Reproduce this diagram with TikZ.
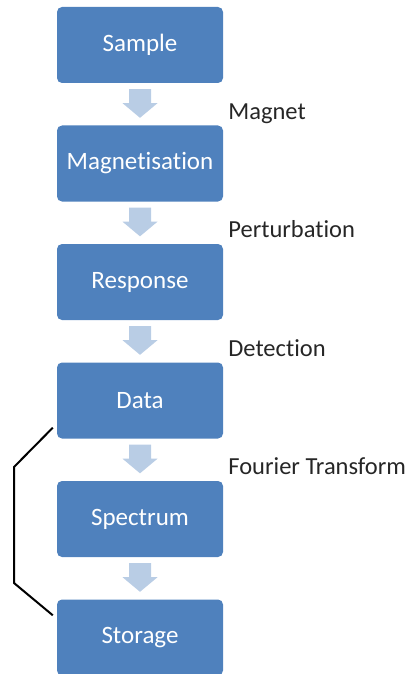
\documentclass[tikz,border=0pt]{standalone}
\usepackage{fontspec}
\setmainfont{Carlito}[Ligatures={NoCommon}]
\usetikzlibrary{calc}
\definecolor{boxblue}{RGB}{79,129,189}
\definecolor{arrowblue}{RGB}{185,205,229}
\begin{document}
\begin{tikzpicture}[x=1pt,y=-1pt,
  stage/.style={fill=boxblue, rounded corners=5pt, minimum width=166pt,
    minimum height=76pt, inner sep=0pt, text=white,
    font=\fontsize{25}{29}\selectfont},
  steplabel/.style={anchor=base west, inner sep=0pt, text=black!85,
    font=\fontsize{24.5}{28}\selectfont},
  bracket/.style={draw=black, line width=2pt}]
\useasboundingbox (0,0) rectangle (410,674);

% process stages
\node[stage] (s1) at (140,45)    {Sample};
\node[stage] (s2) at (140,163.5) {Magnetisation};
\node[stage] (s3) at (140,282)   {Response};
\node[stage] (s4) at (140,400.5) {Data};
\node[stage] (s5) at (140,519)   {Spectrum};
\node[stage] (s6) at (140,637.5) {Storage};

% block arrows between stages
\foreach \a/\b in {s1/s2,s2/s3,s3/s4,s4/s5,s5/s6}{
  \fill[arrowblue] ($(\a.south)+(-11,6)$) -- ($(\a.south)+(11,6)$)
    -- ($(\a.south)+(11,20)$) -- ($(\a.south)+(17.5,20)$)
    -- ($(\b.north)+(0,-7.5)$)
    -- ($(\a.south)+(-17.5,20)$) -- ($(\a.south)+(-11,20)$) -- cycle;
}

% step labels
\node[steplabel] (l1) at ($(s1.south east)+(5,36)$) {Magnet};
\node[steplabel] (l2) at ($(s2.south east)+(5,36)$) {Perturbation};
\node[steplabel] (l3) at ($(s3.south east)+(5,36)$) {Detection};
\node[steplabel] (l4) at ($(s4.south east)+(5,36)$) {Fourier Transform};

% bracket from Data to Storage
\coordinate (b1) at (14,467);
\coordinate (b2) at (14,583);
\draw[bracket] ($(s4.south west)+(-4,-11)$) -- (b1) -- (b2)
  -- ($(s6.north west)+(-4,16)$);
\end{tikzpicture}
\end{document}
